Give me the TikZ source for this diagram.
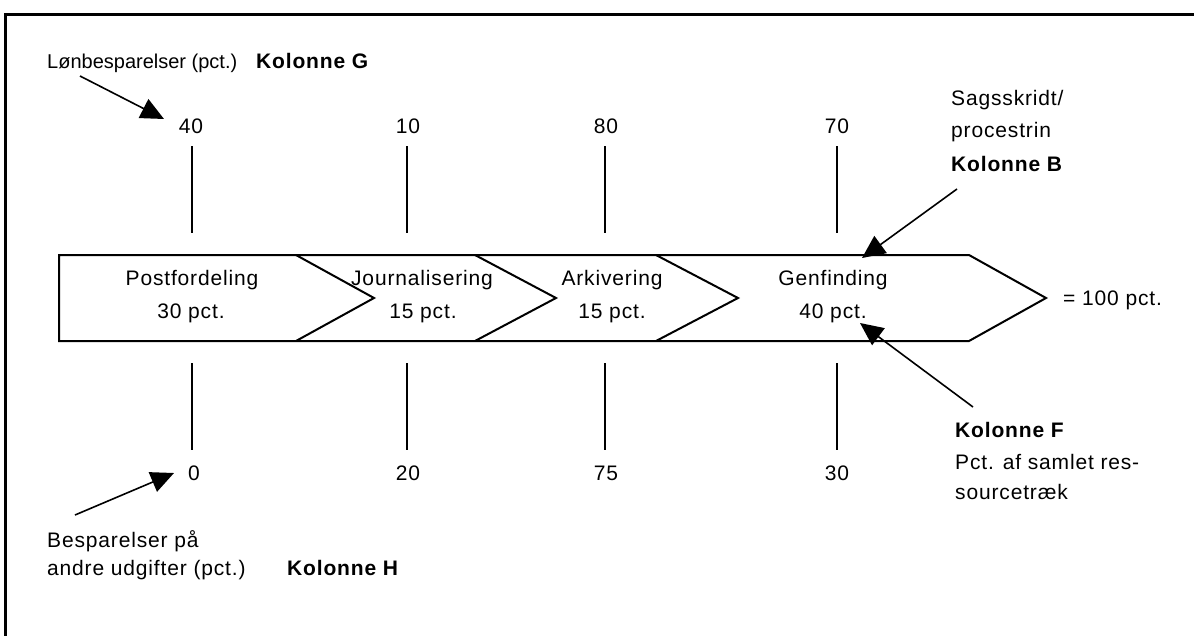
\documentclass[tikz,border=0pt]{standalone}
\usepackage{fontspec}
\setmainfont{Liberation Sans}
\newfontfamily\spacedfont[LetterSpace=4]{Liberation Sans}
\usetikzlibrary{arrows.meta}
\begin{document}
\begin{tikzpicture}[x=1pt,y=-1pt,
  plainlbl/.style={inner sep=0pt, font=\fontsize{20}{24}\selectfont},
  lbl/.style={inner sep=0pt, font=\spacedfont\fontsize{21}{25}\selectfont},
  blbl/.style={inner sep=0pt, font=\spacedfont\fontsize{21}{25}\selectfont\bfseries},
  tick/.style={line width=1.6pt},
  callout/.style={line width=1.6pt, -{Triangle[length=23pt,width=21pt]}},
  strip/.style={line width=2pt, line join=miter},
]
\useasboundingbox (0,0) rectangle (1194,635);
\begin{scope}
  \clip (0,0) rectangle (1194,635);
  \draw[line width=3pt] (5,14) rectangle (1215,660);
\end{scope}

% process strip
\draw[strip] (59,255) -- (969,255) -- (1046,298) -- (969,341) -- (59,341) -- cycle;
\draw[strip] (296,255) -- (374,298) -- (296,341);
\draw[strip] (475,255) -- (556,298) -- (475,341);
\draw[strip] (656,255) -- (738,298) -- (656,341);

% step labels
\node[lbl, anchor=base] (post) at (192,285) {Postfordeling};
\node[lbl, anchor=base] (postp) at (191,318) {30 pct.};
\node[lbl, anchor=base] (jour) at (422,285) {Journalisering};
\node[lbl, anchor=base] (jourp) at (423,318) {15 pct.};
\node[lbl, anchor=base] (ark) at (612,285) {Arkivering};
\node[lbl, anchor=base] (arkp) at (612,318) {15 pct.};
\node[lbl, anchor=base] (gen) at (833,285) {Genfinding};
\node[lbl, anchor=base] (genp) at (833,318) {40 pct.};
\node[lbl, anchor=base west] (total) at (1063,305) {= 100 pct.};

% top values and ticks
\node[lbl, anchor=base] (g1) at (191,133) {40};
\node[lbl, anchor=base] (g2) at (408,133) {10};
\node[lbl, anchor=base] (g3) at (606,133) {80};
\node[lbl, anchor=base] (g4) at (837,133) {70};
\draw[tick] (192,146) -- (192,233);
\draw[tick] (407,146) -- (407,233);
\draw[tick] (605,146) -- (605,233);
\draw[tick] (837,146) -- (837,233);

% bottom values and ticks
\draw[tick] (192,363) -- (192,450);
\draw[tick] (407,363) -- (407,450);
\draw[tick] (605,363) -- (605,450);
\draw[tick] (837,363) -- (837,450);
\node[lbl, anchor=base] (h1) at (194,480) {0};
\node[lbl, anchor=base] (h2) at (408,480) {20};
\node[lbl, anchor=base] (h3) at (606,480) {75};
\node[lbl, anchor=base] (h4) at (837,480) {30};

% column G
\node[plainlbl, anchor=base west] (lon) at (47,68) {Lønbesparelser (pct.)};
\node[blbl, anchor=base west] (kolG) at (256,68) {Kolonne G};
\coordinate (lonT) at (80,76);
\coordinate (lonH) at (164,119);
\draw[callout] (lonT) -- (lonH);

% column H
\node[lbl, anchor=base west] (bes1) at (47,547) {Besparelser på};
\node[lbl, anchor=base west] (bes2) at (47,575) {andre udgifter (pct.)};
\node[blbl, anchor=base west] (kolH) at (287,575) {Kolonne H};
\coordinate (besT) at (75,515);
\coordinate (besH) at (174,473);
\draw[callout] (besT) -- (besH);

% column B
\node[lbl, anchor=base west] (sag1) at (951,105) {Sagsskridt/};
\node[lbl, anchor=base west] (sag2) at (951,137) {procestrin};
\node[blbl, anchor=base west] (kolB) at (951,171) {Kolonne B};
\coordinate (sagT) at (957,189);
\coordinate (sagH) at (862,258);
\draw[callout] (sagT) -- (sagH);

% column F
\node[blbl, anchor=base west] (kolF) at (955,437) {Kolonne F};
\node[lbl, anchor=base west] (pct1) at (955,469) {Pct. af samlet res-};
\node[lbl, anchor=base west] (pct2) at (955,499) {sourcetræk};
\coordinate (pctT) at (973,407);
\coordinate (pctH) at (860,323);
\draw[callout] (pctT) -- (pctH);
\end{tikzpicture}
\end{document}
